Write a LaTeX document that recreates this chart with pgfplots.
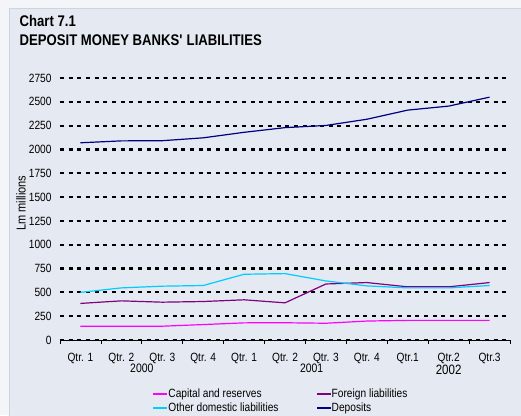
\documentclass[border=0pt]{standalone}
\usepackage{pgfplots}
\pgfplotsset{compat=1.18}
\usepackage{fontspec}
\setmainfont{Liberation Sans}[FakeStretch=0.85]
\definecolor{outerbg}{HTML}{F4F5F8}
\definecolor{panel}{HTML}{E5E9F1}
\definecolor{paneledge}{HTML}{CED4DD}
\definecolor{capc}{HTML}{FF00FF}
\definecolor{forc}{HTML}{800080}
\definecolor{othc}{HTML}{00CCFF}
\definecolor{depc}{HTML}{000080}
\pgfplotstableread{
x cap for oth dep
0 145 384 500 2070
1 145 411 547 2090
2 145 397 565 2092
3 162 404 572 2122
4 180 422 690 2180
5 181 390 697 2229
6 176 588 620 2252
7 199 603 568 2317
8 206 558 547 2413
9 206 558 547 2455
10 206 603 572 2549
}\datatable
\begin{document}
\begin{tikzpicture}[x=1bp,y=1bp]
\path[use as bounding box] (0,0) rectangle (521,415);
\fill[outerbg] (0,0) rectangle (521,415);
\filldraw[fill=panel, draw=paneledge, line width=0.8bp] (9.5,-2) rectangle (523,406.5);
\node[anchor=base west, font=\fontsize{15.5}{18}\selectfont\bfseries, inner sep=0pt] at (19.5,388.5) {Chart 7.1};
\node[anchor=base west, font=\fontsize{15.5}{18}\selectfont\bfseries, inner sep=0pt] at (19.5,369.3) {DEPOSIT MONEY BANKS\textquotesingle\ LIABILITIES};
\node[rotate=90, font=\fontsize{13}{15}\selectfont, inner sep=0pt] at (21,212) {Lm millions};
\begin{axis}[
  at={(60bp,75bp)}, anchor=south west,
  scale only axis, width=450bp, height=262bp,
  xmin=-0.5, xmax=10.5, ymin=0, ymax=2750,
  axis x line*=bottom, axis y line*=left,
  x axis line style={black, line width=0.7bp, -},
  y axis line style={draw=none},
  ytick={0,250,...,2750},
  xtick={0,...,10},
  xticklabels={Qtr. 1,Qtr. 2,Qtr. 3,Qtr. 4,Qtr. 1,Qtr. 2,Qtr. 3,Qtr. 4,Qtr.1,Qtr.2,Qtr.3},
  minor xtick={-0.5,0.5,...,10.5},
  major tick length=0pt, minor tick length=3.5bp,
  tick align=outside,
  minor tick style={black, line width=0.7bp},
  ymajorgrids,
  major grid style={black, line width=2.2bp, dash pattern=on 4bp off 4.67bp},
  tick label style={font=\fontsize{12}{14}\selectfont},
  /pgf/number format/assume math mode=true,
  /pgf/number format/1000 sep={},
  yticklabel style={anchor=east, inner sep=0pt, xshift=-8.3bp},
  xticklabel style={anchor=base, inner sep=0pt, yshift=-21bp},
  clip=false,
  legend columns=2,
  legend cell align=left,
  legend image code/.code={\fill[#1] (0bp,-0.6bp) rectangle (13bp,0.6bp);},
  legend style={at={(0.2067,-0.1863)}, anchor=north west, draw=none, fill=none,
    inner sep=0pt, row sep=4bp,
    font=\fontsize{12}{14}\selectfont,
    nodes={inner xsep=1bp, inner ysep=0pt},
    /tikz/every even column/.append style={column sep=37bp}},
]
\addplot[color=capc, line width=1.2bp] table[x=x, y=cap] {\datatable};
\addplot[color=forc, line width=1.2bp] table[x=x, y=for] {\datatable};
\addplot[color=othc, line width=1.2bp] table[x=x, y=oth] {\datatable};
\addplot[color=depc, line width=1.2bp] table[x=x, y=dep] {\datatable};
\legend{Capital and reserves, Foreign liabilities, Other domestic liabilities, Deposits}
\node[anchor=base, inner sep=0pt, font=\fontsize{12.3}{14}\selectfont, yshift=-32.7bp] at (axis cs:1.5,0) {2000};
\node[anchor=base, inner sep=0pt, font=\fontsize{12.3}{14}\selectfont, yshift=-32.7bp] at (axis cs:5.65,0) {2001};
\node[anchor=base, inner sep=0pt, font=\fontsize{13.6}{16}\selectfont, yshift=-34.9bp] at (axis cs:9,0) {2002};
\end{axis}
\end{tikzpicture}
\end{document}
